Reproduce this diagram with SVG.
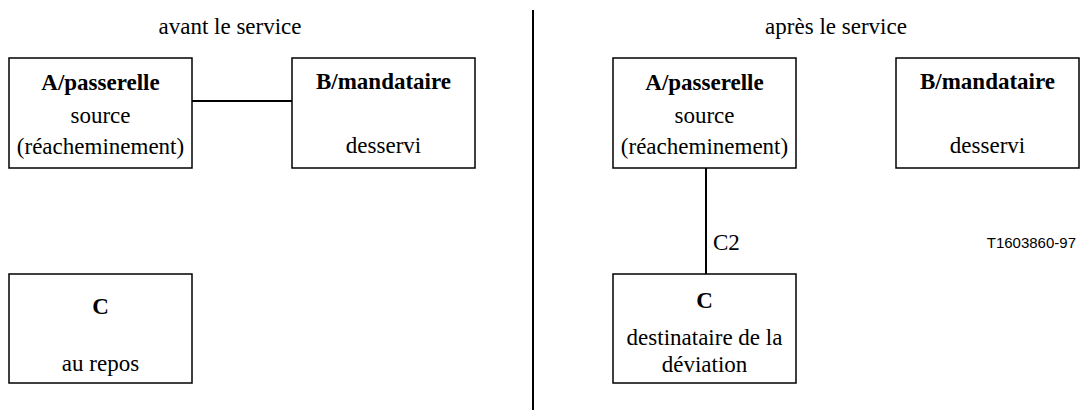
<svg xmlns="http://www.w3.org/2000/svg" width="1082" height="414" viewBox="0 0 1082 414">
<style>
.box{fill:#fff;stroke:#000;stroke-width:1.5}
.t{font-family:'Liberation Serif','Times New Roman',Times,'DejaVu Serif',serif;font-size:23px;fill:#000;text-anchor:middle}
.b{font-weight:bold}
.ln{stroke:#000;stroke-width:2;fill:none}
.ref{font-family:'Liberation Sans',Arial,sans-serif;font-size:15px;fill:#000;text-anchor:end}
</style>
<rect width="1082" height="414" fill="#fff"/>
<text class="t" x="230" y="34" font-family="Liberation Serif, serif">avant le service</text>
<text class="t" x="836" y="34" font-family="Liberation Serif, serif">après le service</text>
<line class="ln" x1="533" y1="10" x2="533" y2="410"/>
<g id="connectors">
<line class="ln" x1="192" y1="101" x2="292" y2="101"/>
<line class="ln" x1="706" y1="168" x2="706" y2="274"/>
<text class="t" x="713" y="250" style="text-anchor:start">C2</text>
</g>
<g id="left-A">
<rect class="box" x="9" y="58" width="183" height="110"/>
<text class="t b" x="100.5" y="90">A/passerelle</text>
<text class="t" x="100.5" y="123">source</text>
<text class="t" x="100.5" y="154">(réacheminement)</text>
</g>
<g id="left-B">
<rect class="box" x="292" y="58" width="183" height="110"/>
<text class="t b" x="383.5" y="89">B/mandataire</text>
<text class="t" x="383.5" y="153">desservi</text>
</g>
<g id="left-C">
<rect class="box" x="9" y="274" width="183" height="109"/>
<text class="t b" x="100.5" y="314">C</text>
<text class="t" x="100.5" y="371">au repos</text>
</g>
<g id="right-A">
<rect class="box" x="613" y="58" width="183" height="110"/>
<text class="t b" x="704.5" y="90">A/passerelle</text>
<text class="t" x="704.5" y="123">source</text>
<text class="t" x="704.5" y="154">(réacheminement)</text>
</g>
<g id="right-B">
<rect class="box" x="896" y="58" width="183" height="110"/>
<text class="t b" x="987.5" y="89">B/mandataire</text>
<text class="t" x="987.5" y="153">desservi</text>
</g>
<g id="right-C">
<rect class="box" x="613" y="274" width="183" height="109"/>
<text class="t b" x="704.5" y="308">C</text>
<text class="t" x="704.5" y="345">destinataire de la</text>
<text class="t" x="704.5" y="372">déviation</text>
</g>
<text class="ref" x="1076" y="248">T1603860-97</text>
</svg>
